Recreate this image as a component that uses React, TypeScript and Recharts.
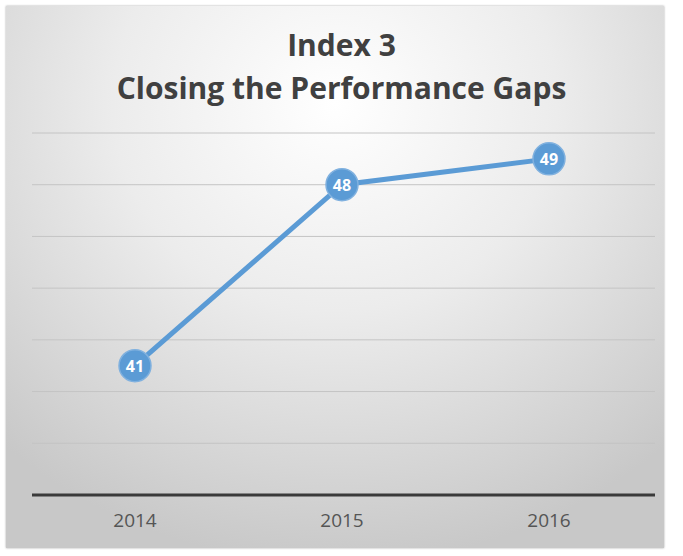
import React from "react";
import { LineChart, Line, XAxis, YAxis, CartesianGrid } from "recharts";

const years = ["2014", "2015", "2016"];
const indexValues = [41, 48, 49];
const yTicks = [36, 38, 40, 42, 44, 46, 48, 50];
const titleLines = ["Index 3", "Closing the Performance Gaps"];

const data = years.map((y, i) => ({ year: y, value: indexValues[i] }));

const BLUE = "#5b9bd5";
const FONT = "'Open Sans', Lato, sans-serif";

const Dot = (props: any) => {
  const { cx, cy, payload } = props;
  if (cx == null || cy == null) return null;
  return (
    <g>
      <circle cx={cx} cy={cy} r={16} fill={BLUE} stroke="#80b1df" strokeWidth={1.5} />
      <text
        x={cx}
        y={cy}
        dy={6}
        textAnchor="middle"
        fill="#ffffff"
        fontFamily={FONT}
        fontWeight={700}
        fontSize={16}
      >
        {payload.value}
      </text>
    </g>
  );
};

export default function App() {
  return (
    <div style={{ position: "absolute", left: 0, top: 0, width: 683, height: 556, background: "#ffffff" }}>
      <div
        style={{
          position: "absolute",
          left: 6,
          top: 6,
          width: 658,
          height: 542,
          background: "radial-gradient(ellipse 75% 85% at 50% 18%, #ffffff 0%, #ececec 45%, #d2d2d2 85%, #c8c8c8 100%)",
          boxShadow: "0 0 2px rgba(0,0,0,0.35)",
        }}
      />
      <div style={{ position: "absolute", left: 0, top: 0, width: 683, textAlign: "center", fontFamily: FONT, fontWeight: 700, color: "#404040" }}>
        <div style={{ position: "absolute", top: 24, width: 683, fontSize: 30, lineHeight: "42px" }}>{titleLines[0]}</div>
        <div style={{ position: "absolute", top: 67, width: 683, fontSize: 30, lineHeight: "42px" }}>{titleLines[1]}</div>
      </div>
      <div style={{ position: "absolute", left: 0, top: 0 }}>
        <LineChart width={683} height={556} data={data} margin={{ top: 133, right: 28, bottom: 31, left: 32 }}>
          <CartesianGrid horizontal vertical={false} stroke="#c4c4c4" strokeWidth={1} />
          <YAxis hide domain={[36, 50]} ticks={yTicks} type="number" />
          <XAxis
            dataKey="year"
            height={30}
            padding={{ left: 103, right: 106 }}
            axisLine={{ stroke: "#3a3a3a", strokeWidth: 3 }}
            tickLine={false}
            tickMargin={13}
            tick={{ fill: "#555555", fontSize: 19, fontFamily: FONT }}
          />
          <Line
            dataKey="value"
            stroke={BLUE}
            strokeWidth={5}
            dot={<Dot />}
            activeDot={false}
            isAnimationActive={false}
          />
        </LineChart>
      </div>
    </div>
  );
}
